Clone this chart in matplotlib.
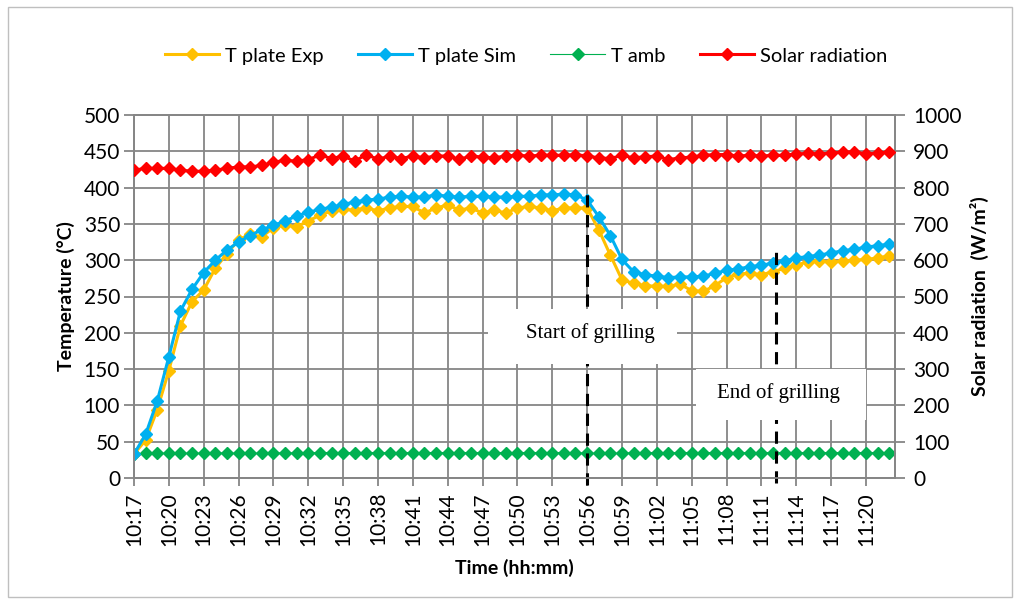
import numpy as np
import pandas as pd
import matplotlib
matplotlib.use("Agg")
import matplotlib.pyplot as plt
import matplotlib.patches as patches

# minute-by-minute readings, 10:17 -> 11:22
times = pd.date_range("10:17", "11:22", freq="1min").strftime("%H:%M").tolist()

t_plate_exp = [33, 52, 94, 148, 210, 243, 259, 289, 309, 328,
               336, 332, 345, 348, 346, 354, 362, 368, 370, 369,
               372, 368, 372, 374, 374, 365, 372, 376, 369, 372,
               365, 369, 365, 372, 374, 372, 368, 372, 372, 372,
               342, 307, 273, 268, 265, 264, 264, 267, 258, 257,
               265, 276, 281, 282, 280, 284, 289, 293, 298, 299,
               297, 299, 300, 301, 303, 306]

t_plate_sim = [33, 60, 106, 167, 230, 260, 283, 300, 314, 325,
               334, 342, 348, 354, 361, 366, 370, 373, 377, 380,
               383, 384, 387, 388, 387, 387, 390, 388, 387, 388,
               388, 387, 387, 388, 388, 390, 390, 391, 390, 383,
               360, 334, 301, 284, 280, 278, 276, 277, 277, 278,
               282, 286, 288, 291, 293, 296, 299, 303, 305, 307,
               310, 313, 315, 318, 320, 322]

t_amb = [33, 34, 34, 34, 34, 34, 34, 35, 34, 34,
         34, 34, 35, 34, 35, 35, 35, 35, 35, 35,
         35, 35, 35, 35, 35, 35, 35, 35, 35, 35,
         35, 35, 35, 35, 35, 35, 35, 35, 35, 34,
         34, 34, 34, 35, 35, 35, 35, 35, 35, 35,
         35, 35, 35, 35, 35, 35, 35, 35, 35, 35,
         35, 35, 35, 35, 35, 35]

solar = [848, 853, 853, 853, 848, 845, 845, 848, 853, 857,
         857, 861, 870, 875, 873, 877, 890, 880, 887, 873,
         891, 878, 887, 880, 887, 882, 887, 887, 878, 887,
         884, 882, 887, 889, 887, 889, 889, 889, 891, 887,
         882, 880, 889, 882, 885, 887, 877, 882, 884, 889,
         891, 891, 887, 889, 887, 889, 889, 893, 894, 893,
         895, 898, 898, 893, 895, 898]

start_grill = "10:56"

GRID = "#868686"
TICKFONT = "Lato"

fig = plt.figure(figsize=(10.21, 6.05), dpi=100)
fig.patch.set_facecolor("white")
# chart-area border
fig.add_artist(patches.Rectangle((8 / 1021, 8 / 605), 1004 / 1021, 590 / 605,
                                 transform=fig.transFigure, fill=False,
                                 edgecolor="#bfbfbf", linewidth=1.0))

ax = fig.add_axes([134 / 1021, 1 - 478 / 605, 761 / 1021, 363 / 605])
ax2 = ax.twinx()

x = np.arange(len(times))

l_exp, = ax.plot(x, t_plate_exp, color="#FFC000", lw=2.2, marker="D",
                 ms=5.8, zorder=4, label="T plate Exp")
l_sim, = ax.plot(x, t_plate_sim, color="#00B0F0", lw=2.2, marker="D",
                 ms=5.8, zorder=5, label="T plate Sim")
l_amb, = ax.plot(x, t_amb, color="#00B050", lw=0.8, marker="D",
                 ms=5.8, zorder=4, label="T amb")
l_sol, = ax2.plot(x, solar, color="#FF0000", lw=2.2, marker="D",
                  ms=5.8, zorder=4, label="Solar radiation")

# axes ranges and ticks
ax.set_xlim(0, len(times) - 0.5)
ax.set_ylim(0, 500)
ax2.set_ylim(0, 1000)
ax.set_yticks(np.arange(0, 501, 50))
ax2.set_yticks(np.arange(0, 1001, 100))
ax.set_xticks(x[::3])
ax.set_xticklabels(times[::3], rotation=90)

ax.grid(True, color=GRID, lw=1.3, zorder=0)
ax.set_axisbelow(True)

for a in (ax, ax2):
    for s in a.spines.values():
        s.set_color(GRID)
        s.set_linewidth(1.3)
    a.tick_params(colors=GRID, width=1.3, length=7, labelcolor="black",
                  labelsize=15)
    for lab in a.get_xticklabels() + a.get_yticklabels():
        lab.set_fontfamily(TICKFONT)
ax.tick_params(axis="x", length=6, pad=4)
ax.tick_params(axis="y", pad=3)
ax2.tick_params(axis="y", pad=6)

ax.set_xlabel("Time (hh:mm)", fontsize=14, fontweight="bold",
              fontfamily=TICKFONT, labelpad=10)
ax.set_ylabel("Temperature (°C)", fontsize=14, fontweight="bold",
              fontfamily=TICKFONT, labelpad=6)
ax2.set_ylabel("Solar radiation  (W/m²)", fontsize=14, fontweight="bold",
               fontfamily=TICKFONT, labelpad=6)

# grilling markers
xs = times.index(start_grill)
ax.plot([xs, xs], [-9, 396], color="black", lw=2.2, dashes=(4, 2.5),
        clip_on=False, zorder=6)
xe = 55.3
ax.plot([xe, xe], [-7, 314], color="black", lw=2.2, dashes=(4, 2.5),
        clip_on=False, zorder=6)

ax.add_patch(patches.Rectangle((30.5, 157), 16.2, 76, facecolor="white",
                               edgecolor="none", zorder=7))
ax.text(39.3, 199, "Start of grilling", ha="center", va="center",
        fontsize=15, fontfamily="Liberation Serif", zorder=8)
ax.add_patch(patches.Rectangle((48.4, 80), 14.6, 70, facecolor="white",
                               edgecolor="none", zorder=7))
ax.text(55.5, 117, "End of grilling", ha="center", va="center",
        fontsize=15, fontfamily="Liberation Serif", zorder=8)

leg = fig.legend(handles=[l_exp, l_sim, l_amb, l_sol], loc="center",
                 bbox_to_anchor=(526 / 1021, 1 - 56 / 605), ncol=4,
                 frameon=False, handlelength=2.7, columnspacing=1.7,
                 handletextpad=0.3,
                 prop={"family": TICKFONT, "size": 14.5})

fig.savefig("out.png", dpi=100, facecolor="white")
